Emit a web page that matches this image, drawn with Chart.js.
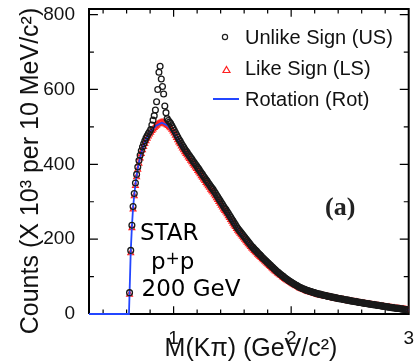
<!DOCTYPE html>
<html>
<head>
<meta charset="utf-8">
<script src="https://cdn.jsdelivr.net/npm/chart.js@4.4.0/dist/chart.umd.min.js"></script>
</head>
<body style="margin:0; background:#fff">
<canvas id="kpi" width="414" height="361"></canvas>
<script>
// ----------------- Data -----------------
// 10 MeV bins, first bin centre just above the K+pi threshold
const binStart = 0.625;
const binWidth = 0.01;

// Unlike sign K pi pairs (x 10^3 per 10 MeV), one row = 0.1 GeV
const usCounts = [
  57, 170, 237, 287, 322, 350, 373, 393, 410, 424,
  436, 446, 455, 463, 470, 476, 482, 487, 493, 505,
  518, 530, 545, 567, 600, 646, 662, 628, 608, 588,
  556, 538, 522, 517, 513, 509, 503, 497, 491, 485,
  479, 473, 467, 462, 456, 451, 446, 441, 436, 432,
  427, 423, 418, 414, 409, 405, 400, 396, 391, 387,
  382, 377, 373, 368, 364, 359, 355, 350, 346, 341,
  337, 333, 328, 323, 318, 313, 308, 303, 298, 293,
  288, 283, 279, 274, 269, 264, 259, 254, 249, 244,
  239, 234, 229, 225, 221, 217, 213, 209, 205, 201,
  197, 193, 189, 185, 181, 178, 174, 171, 168, 164,
  161, 158, 155, 151, 148, 145, 142, 139, 136, 133,
  130, 127, 124, 121, 118, 115, 112, 110, 107, 105,
  102, 100, 97, 95, 93, 90, 88, 86, 84, 82,
  80, 78, 77, 75, 73, 71, 70, 68, 67, 66,
  64, 63, 62, 61, 60, 59, 58, 57, 56, 55,
  54, 53, 53, 52, 51, 50, 50, 49, 48, 47,
  47, 46, 45, 45, 44, 43, 43, 42, 41, 41,
  40, 40, 39, 38, 38, 37, 37, 36, 35, 35,
  34, 34, 33, 33, 32, 31, 31, 30, 30, 29,
  29, 28, 28, 27, 27, 26, 26, 25, 25, 24,
  24, 23, 23, 22, 22, 21, 21, 20, 20, 19,
  19, 18, 18, 17, 17, 16, 16, 15, 15, 15,
  14, 14, 13, 13, 12, 12, 12, 11
];

// Like sign pairs, same binning
const lsCounts = [
  52, 163, 230, 280, 315, 343, 366, 386, 402, 416,
  428, 438, 447, 455, 462, 469, 475, 480, 485, 490,
  494, 498, 501, 504, 507, 509, 511, 512, 512, 511,
  509, 507, 505, 503, 500, 497, 493, 488, 483, 477,
  471, 465, 459, 454, 448, 443, 438, 433, 428, 424,
  419, 415, 410, 406, 401, 397, 392, 388, 383, 379,
  374, 369, 365, 360, 356, 351, 347, 342, 338, 333,
  329, 325, 320, 315, 310, 305, 300, 295, 290, 285,
  280, 276, 272, 267, 262, 257, 252, 247, 242, 237,
  233, 228, 223, 219, 215, 211, 207, 203, 199, 195,
  191, 187, 184, 180, 176, 173, 169, 166, 163, 159,
  156, 153, 150, 147, 144, 141, 138, 135, 132, 129,
  126, 123, 120, 117, 114, 112, 109, 107, 104, 102,
  99, 97, 94, 92, 90, 88, 86, 84, 82, 80,
  78, 76, 75, 73, 71, 69, 68, 66, 65, 64,
  62, 61, 60, 59, 58, 57, 56, 55, 54, 53,
  52, 51, 51, 50, 49, 48, 48, 47, 46, 46,
  45, 44, 44, 43, 42, 42, 41, 40, 40, 39,
  39, 38, 38, 37, 36, 36, 35, 35, 34, 34,
  33, 33, 32, 32, 31, 30, 30, 29, 29, 28,
  28, 27, 27, 26, 26, 25, 25, 24, 24, 23,
  23, 22, 22, 21, 21, 20, 20, 19, 19, 18,
  18, 18, 17, 17, 16, 16, 15, 15, 15, 14,
  14, 13, 13, 13, 12, 12, 11, 11
];

// Rotation background (blue line), mostly hidden under the markers
const rotMass = [0.28, 0.62, 0.625, 0.635, 0.645, 0.655, 0.665, 0.675, 0.685, 0.695,
  0.705, 0.715, 0.735, 0.755, 0.775, 0.8, 0.85, 0.9, 0.95, 1.0, 1.1, 1.2, 1.3,
  1.4, 1.5, 1.6, 1.7, 1.8, 1.9, 2.0, 2.2, 2.4, 2.6, 2.8, 3.0];
const rotCounts = [0, 0, 55, 166, 233, 284, 318, 346, 369, 389,
  405, 419, 442, 459, 472, 487, 503, 511, 503, 483, 430, 385, 338,
  292, 245, 201, 164, 136, 110, 84, 56, 42, 30, 20, 11];

// axis range and tick positions
const xRange = [0.28, 3.0];
const yRange = [0, 815];
const xTickLabels = [1, 2, 3];
const yTickLabels = [0, 200, 400, 600, 800];
const xTickMarks = [0.4, 0.6, 0.8, 1.0, 1.2, 1.4, 1.6, 1.8, 2.0, 2.2, 2.4, 2.6, 2.8];
const yTickMarks = [100, 200, 300, 400, 500, 600, 700, 800];

const legendLabels = ['Unlike Sign (US)', 'Like Sign (LS)', 'Rotation (Rot)'];
const xTitle = 'M(K\u03C0) (GeV/c\u00B2)';
const yTitle = 'Counts (X 10\u00B3 per 10 MeV/c\u00B2)';

// ----------------- Helpers -----------------
const SANS = '"Liberation Sans", Arial, sans-serif';

function toPoints(counts) {
  return counts.map((v, i) => ({ x: +(binStart + i * binWidth).toFixed(3), y: v }));
}

function isInt(v) {
  return Math.abs(v - Math.round(v)) < 1e-6;
}

// closed box round the plot, in axis units
function framePoints() {
  const [x0, x1] = xRange;
  const [y0, y1] = yRange;
  return [{ x: x0, y: y0 }, { x: x1, y: y0 }, { x: x1, y: y1 }, { x: x0, y: y1 }, { x: x0, y: y0 }];
}

// inward tick marks on all four sides, split by gaps
function tickPoints() {
  const [x0, x1] = xRange;
  const [y0, y1] = yRange;
  const pts = [];
  xTickMarks.forEach(v => {
    const len = isInt(v) ? 21 : 12;
    pts.push({ x: v, y: y0 }, { x: v, y: y0 + len }, { x: v, y: null });
    pts.push({ x: v, y: y1 }, { x: v, y: y1 - len }, { x: v, y: null });
  });
  yTickMarks.forEach(v => {
    const len = v % 200 === 0 ? 0.076 : 0.042;
    pts.push({ x: x0, y: v }, { x: x0 + len, y: v }, { x: null, y: null });
    pts.push({ x: x1, y: v }, { x: x1 - len, y: v }, { x: null, y: null });
  });
  return pts;
}

function drawTexts(chart) {
  const c = chart.ctx;
  c.save();
  c.fillStyle = '#111';
  c.textBaseline = 'alphabetic';

  // axis titles
  c.font = '25px ' + SANS;
  c.textAlign = 'center';
  c.fillText(xTitle, 251, 356);
  c.save();
  c.translate(37.5, 171);
  c.rotate(-Math.PI / 2);
  c.fillText(yTitle, 0, 0);
  c.restore();

  // legend
  c.textAlign = 'left';
  c.font = '20px ' + SANS;
  c.lineWidth = 1.2;
  c.strokeStyle = '#222';
  c.beginPath();
  c.arc(225, 37, 2.6, 0, Math.PI * 2);
  c.stroke();
  c.fillText(legendLabels[0], 245, 44);
  c.strokeStyle = '#ff2020';
  c.beginPath();
  c.moveTo(226.5, 66.5);
  c.lineTo(230, 72.5);
  c.lineTo(223, 72.5);
  c.closePath();
  c.stroke();
  c.fillText(legendLabels[1], 245, 75);
  c.strokeStyle = '#2346ff';
  c.lineWidth = 2;
  c.beginPath();
  c.moveTo(213, 99);
  c.lineTo(239, 99);
  c.stroke();
  c.fillText(legendLabels[2], 245, 106);

  // STAR p+p 200 GeV
  c.fillStyle = '#000';
  c.font = '23px "DejaVu Sans", sans-serif';
  c.fillText('STAR', 140, 240);
  let x = 151;
  c.fillText('p', x, 269);
  x += c.measureText('p').width;
  c.font = '17px "DejaVu Sans", sans-serif';
  c.fillText('+', x, 264);
  x += c.measureText('+').width;
  c.font = '23px "DejaVu Sans", sans-serif';
  c.fillText('p', x, 269);
  c.fillText('200 GeV', 141.5, 296);

  // panel label
  c.fillStyle = '#222';
  c.font = 'bold 26px "Liberation Serif", serif';
  c.fillText('(a)', 325, 215);
  c.restore();
}

const textPlugin = {
  id: 'kpiTexts',
  afterDraw(chart) { drawTexts(chart); }
};

// ----------------- Chart -----------------
new Chart(document.getElementById('kpi').getContext('2d'), {
  type: 'scatter',
  data: {
    datasets: [
      {
        label: legendLabels[0],
        data: toPoints(usCounts),
        pointStyle: 'circle',
        pointRadius: 2.9,
        borderWidth: 1.3,
        borderColor: '#1a1a1a',
        backgroundColor: 'rgba(0,0,0,0)',
        order: 0
      },
      {
        label: legendLabels[2],
        data: rotMass.map((m, i) => ({ x: m, y: rotCounts[i] })),
        showLine: true,
        pointRadius: 0,
        borderColor: '#2346ff',
        borderWidth: 1.8,
        clip: 3,
        order: 1
      },
      {
        label: legendLabels[1],
        data: toPoints(lsCounts),
        pointStyle: 'triangle',
        pointRadius: 3.4,
        borderWidth: 1.1,
        borderColor: '#ff2020',
        backgroundColor: 'rgba(0,0,0,0)',
        order: 2
      },
      {
        label: 'ticks',
        data: tickPoints(),
        showLine: true,
        spanGaps: false,
        pointRadius: 0,
        borderColor: '#000',
        borderWidth: 1.2,
        clip: 4,
        order: 8
      },
      {
        label: 'frame',
        data: framePoints(),
        showLine: true,
        pointRadius: 0,
        borderColor: '#000',
        borderWidth: 2,
        clip: 4,
        order: 9
      }
    ]
  },
  options: {
    responsive: false,
    devicePixelRatio: 1,
    animation: false,
    layout: { padding: { top: 9, right: 1, left: 0, bottom: 0 } },
    plugins: {
      legend: { display: false },
      tooltip: { enabled: false }
    },
    scales: {
      x: {
        type: 'linear',
        min: xRange[0],
        max: xRange[1],
        grid: { display: false },
        border: { display: false },
        ticks: {
          stepSize: 0.2,
          includeBounds: false,
          autoSkip: false,
          maxRotation: 0,
          padding: 5,
          color: '#111',
          font: { family: SANS, size: 19 },
          callback: v => (xTickLabels.some(t => Math.abs(t - v) < 1e-6) ? String(Math.round(v)) : '')
        },
        afterFit(scale) {
          scale.height = 47;
          scale.paddingLeft = 0;
          scale.paddingRight = 0;
        }
      },
      y: {
        min: yRange[0],
        max: yRange[1],
        grid: { display: false },
        border: { display: false },
        ticks: {
          stepSize: 100,
          includeBounds: false,
          autoSkip: false,
          padding: 6,
          color: '#111',
          font: { family: SANS, size: 19 },
          callback: v => (yTickLabels.includes(v) ? String(v) : '')
        },
        afterFit(scale) {
          scale.width = 89;
          scale.paddingTop = 0;
          scale.paddingBottom = 0;
        }
      }
    }
  },
  plugins: [textPlugin]
});
</script>
</body>
</html>
